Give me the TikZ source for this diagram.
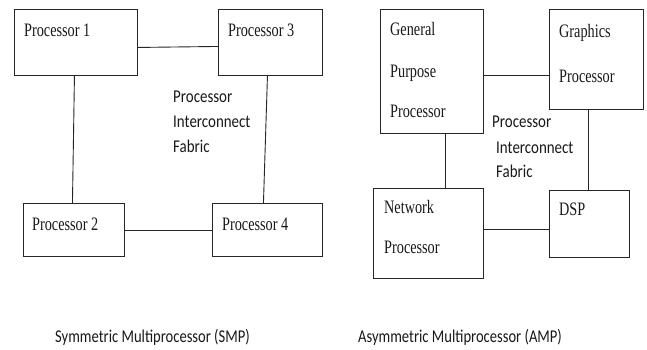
\documentclass[tikz,border=0pt]{standalone}
\usepackage{fontspec}
\newfontfamily\boxfont[FakeStretch=0.75]{Liberation Serif}
\newfontfamily\labfont[FakeStretch=0.83]{Carlito}
\newfontfamily\capfont[FakeStretch=0.81]{Carlito}
\begin{document}
\begin{tikzpicture}[x=1pt,y=-1pt,
  box/.style={draw=black!85,line width=0.9pt,rectangle,inner sep=0pt,anchor=north west},
  wire/.style={draw=black!85,line width=0.9pt},
  btxt/.style={anchor=base west,inner sep=0pt,font=\boxfont\fontsize{19}{19}\selectfont,text=black!90},
  ltxt/.style={anchor=base west,inner sep=0pt,font=\labfont\fontsize{18}{18}\selectfont,text=black!90},
  ctxt/.style={anchor=base west,inner sep=0pt,font=\capfont\fontsize{18}{18}\selectfont,text=black!90}]
\useasboundingbox[fill=white] (0,0) rectangle (647,349);
% SMP boxes
\node[box,minimum width=123pt,minimum height=66pt] (p1) at (14,9) {};
\node[box,minimum width=104pt,minimum height=66pt] (p3) at (218,9) {};
\node[box,minimum width=101pt,minimum height=53pt] (p2) at (23,203) {};
\node[box,minimum width=110pt,minimum height=53pt] (p4) at (212,203) {};
\node[btxt] (t1) at (24,36) {Processor 1};
\node[btxt] (t3) at (228,36) {Processor 3};
\node[btxt] (t2) at (32,230) {Processor 2};
\node[btxt] (t4) at (222,230) {Processor 4};
\draw[wire] ([yshift=-5pt]p1.east) -- ([yshift=-4pt]p3.west);
\draw[wire] ([xshift=-1.5pt]p1.south) -- ([xshift=-1.5pt]p2.north);
\draw[wire] ([xshift=-3pt]p3.south) -- ([xshift=-4pt]p4.north);
\draw[wire] (p2.east) -- (p4.west);
\node[ltxt] (s1) at (173,102) {Processor};
\node[ltxt] (s2) at (173,127) {Interconnect};
\node[ltxt] (s3) at (173,152) {Fabric};
% AMP boxes
\node[box,minimum width=103pt,minimum height=124pt] (gpp) at (380,9) {};
\node[box,minimum width=94pt,minimum height=100pt] (gr) at (549,9) {};
\node[box,minimum width=110pt,minimum height=90pt] (net) at (373,188) {};
\node[box,minimum width=80pt,minimum height=67pt] (dsp) at (549,190) {};
\node[btxt] (g1) at (390,35) {General};
\node[btxt] (g2) at (390,77) {Purpose};
\node[btxt] (g3) at (390,117) {Processor};
\node[btxt] (h1) at (559,37) {Graphics};
\node[btxt] (h2) at (559,82) {Processor};
\node[btxt] (n1) at (384,213) {Network};
\node[btxt] (n2) at (384,253) {Processor};
\node[btxt] (d1) at (559,215) {DSP};
\draw[wire] ([yshift=-4pt]gpp.east) -- ([yshift=-16pt]gr.west);
\draw[wire] ([xshift=13.5pt]gpp.south) -- ([xshift=17pt]net.north);
\draw[wire] ([xshift=-8pt]gr.south) -- ([xshift=-1pt]dsp.north);
\draw[wire] ([yshift=4pt]net.east) -- ([yshift=-5.5pt]dsp.west);
\node[ltxt] (a1) at (492,127) {Processor};
\node[ltxt] (a2) at (496,153) {Interconnect};
\node[ltxt] (a3) at (496,177) {Fabric};
% captions
\node[ctxt] (c1) at (55,342) {Symmetric Multiprocessor (SMP)};
\node[ctxt] (c2) at (358,342) {Asymmetric Multiprocessor (AMP)};
\end{tikzpicture}
\end{document}
